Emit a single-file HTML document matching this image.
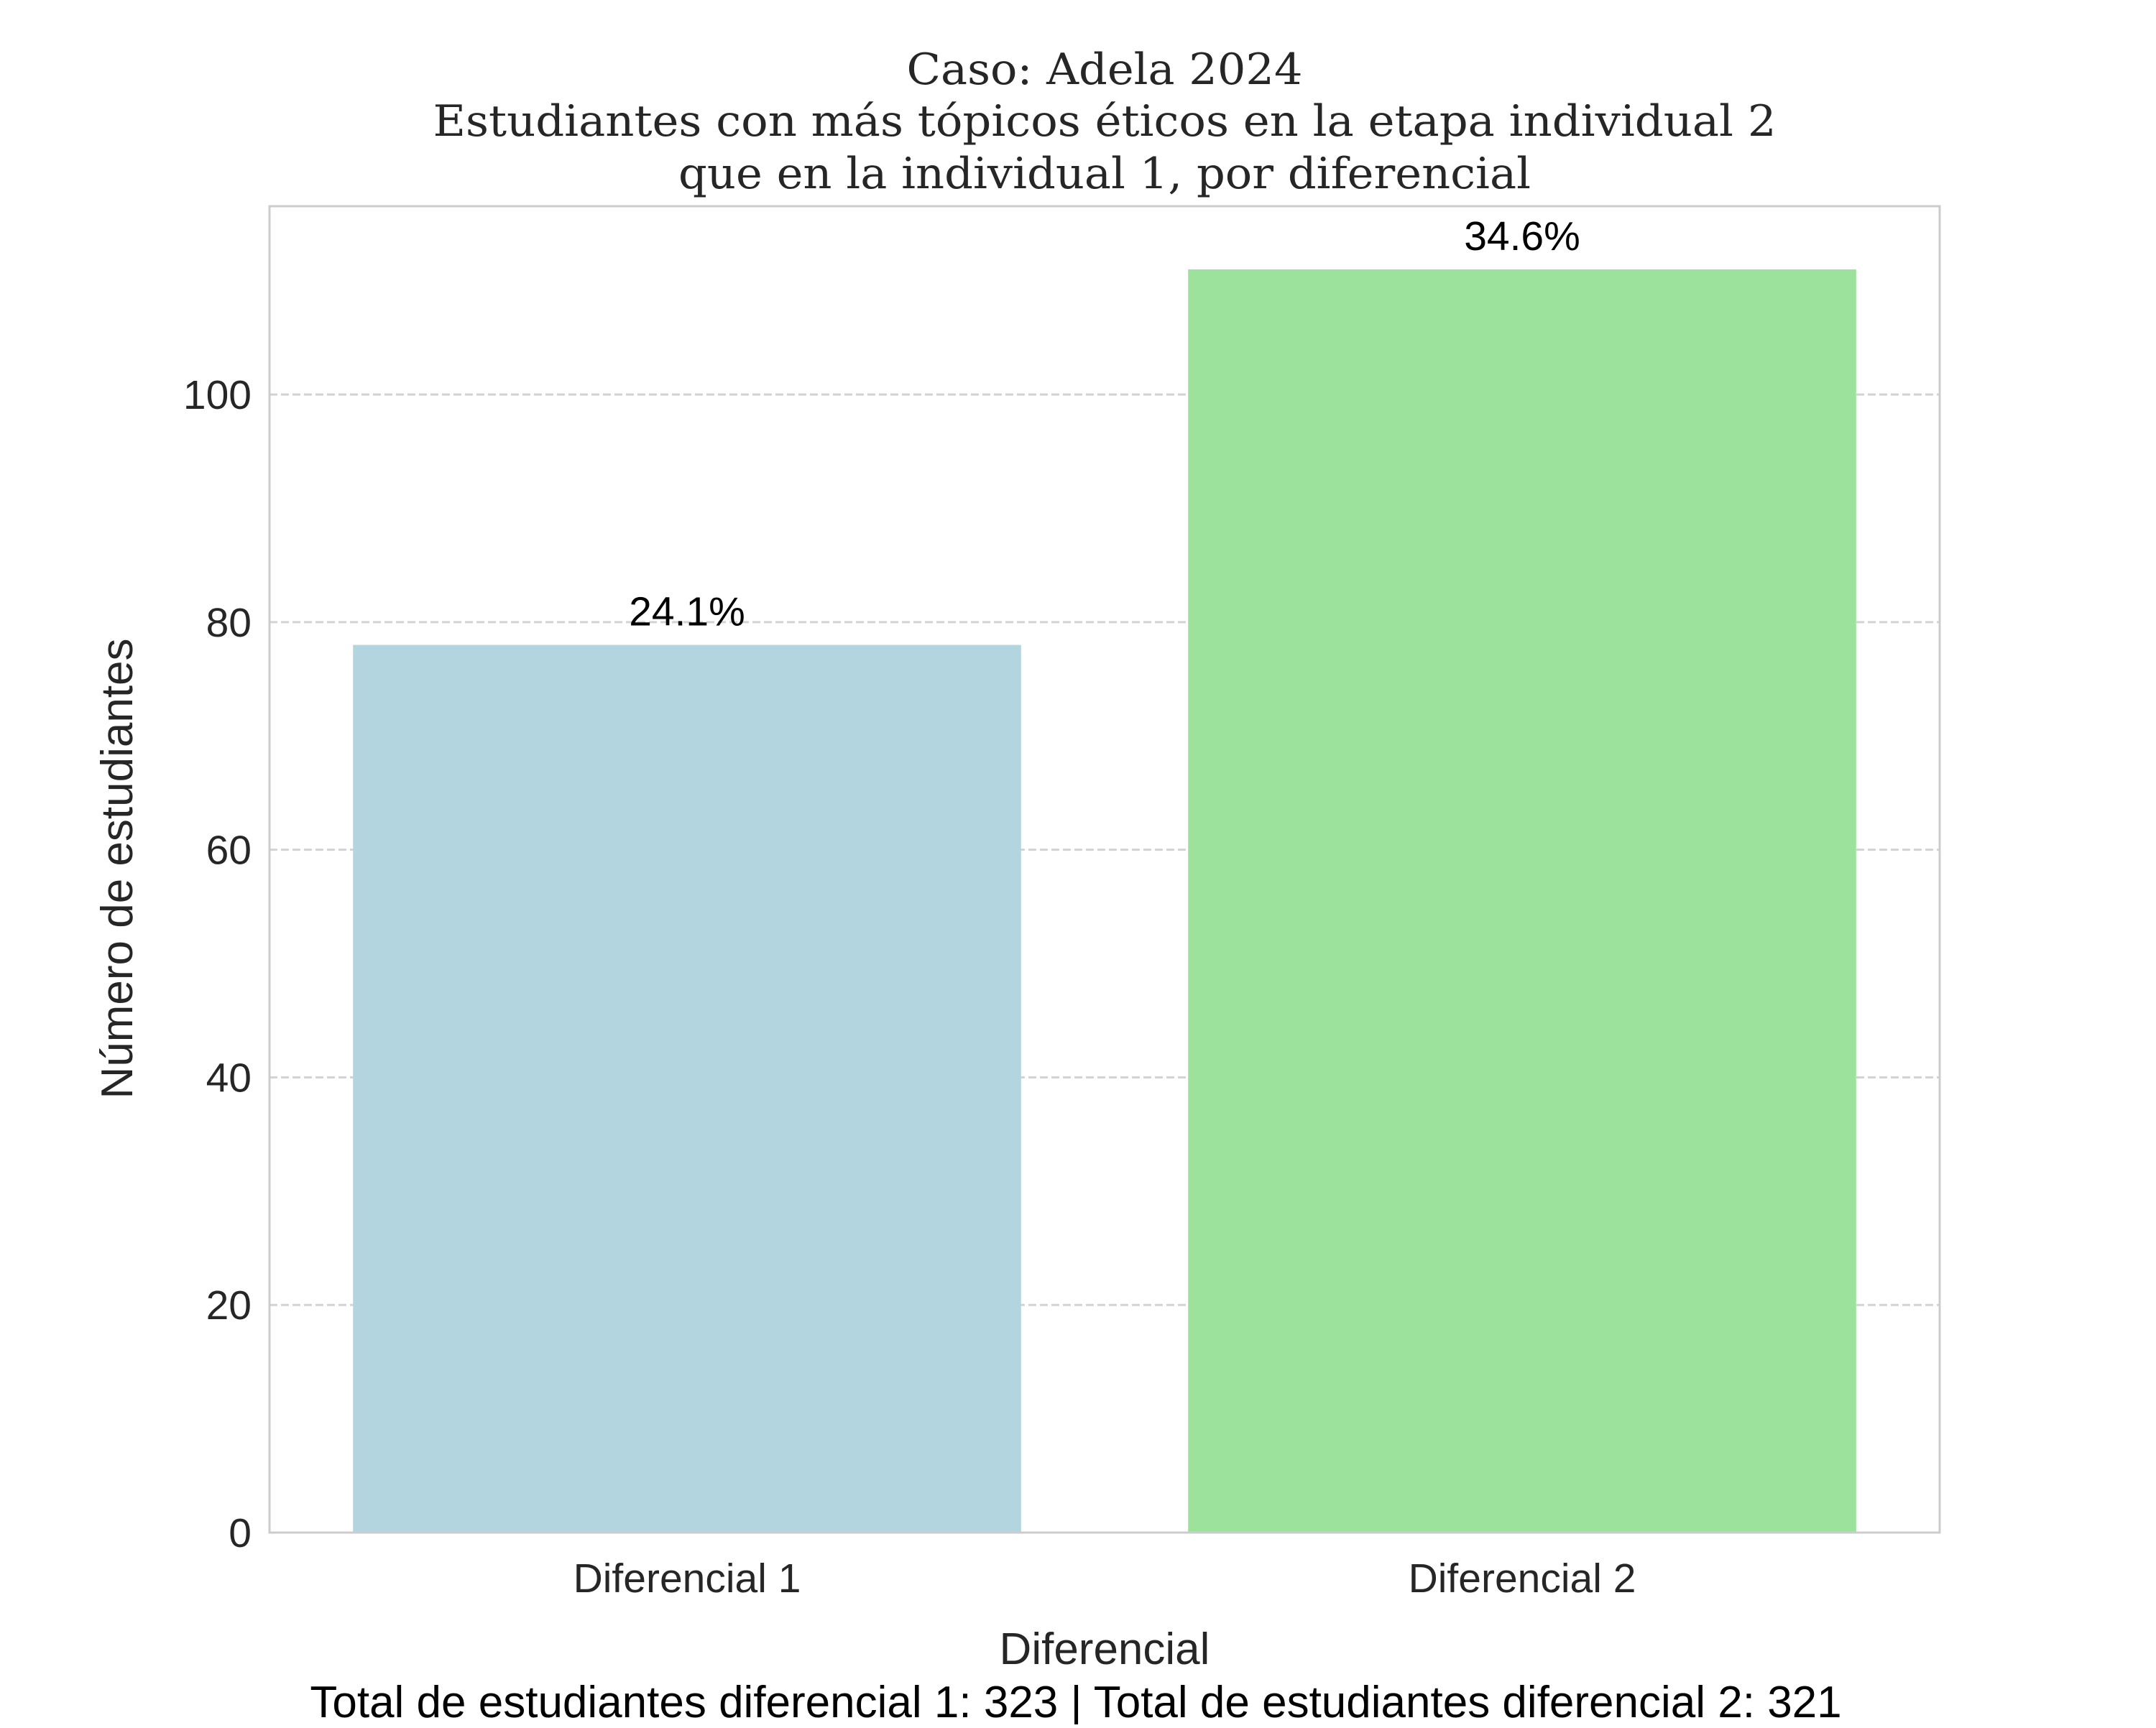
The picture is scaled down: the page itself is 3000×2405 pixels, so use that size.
<!DOCTYPE html>
<html><head><meta charset="utf-8"><style>
body{margin:0;background:#fff}
svg text{font-family:"Liberation Sans",sans-serif}
</style></head><body>
<svg id="chart" width="3000" height="2400" xmlns="http://www.w3.org/2000/svg">
<rect width="3000" height="2400" fill="#fff"/>
<g font-size="60" fill="#262626" text-anchor="middle">
<text x="1537" y="117" textLength="551" lengthAdjust="spacingAndGlyphs" style="font-family:'DejaVu Serif',serif">Caso: Adela 2024</text>
<text x="1537" y="189" textLength="1869" lengthAdjust="spacingAndGlyphs" style="font-family:'DejaVu Serif',serif">Estudiantes con más tópicos éticos en la etapa individual 2</text>
<text x="1537" y="262" textLength="1186" lengthAdjust="spacingAndGlyphs" style="font-family:'DejaVu Serif',serif">que en la individual 1, por diferencial</text>
</g>
<g id="grid"></g>
<g id="bars"></g>
<rect x="375" y="287" width="2324" height="1846" fill="none" stroke="#cccccc" stroke-width="3"/>
<g id="ticks"></g>
<text x="0" y="0" transform="translate(184,1209) rotate(-90)" font-size="62" fill="#262626" text-anchor="middle">Número de estudiantes</text>
<text x="1537" y="2316" font-size="62" fill="#262626" text-anchor="middle">Diferencial</text>
<text x="1497" y="2390" font-size="62" fill="#000" text-anchor="middle">Total de estudiantes diferencial 1: 323 | Total de estudiantes diferencial 2: 321</text>
</svg>
<script>
const categories=["Diferencial 1","Diferencial 2"];
const values=[78,111];
const labels=["24.1%","34.6%"];
const colors=["#b3d5df","#9de29c"];
const yTicks=[0,20,40,60,80,100];
const L=375,R=2699,T=287,B=2133,yMax=116.55;
const ns="http://www.w3.org/2000/svg";
const y=v=>B-(B-T)*v/yMax;
const step=(R-L)/categories.length;
const x=i=>L+step*(i+0.5);
const bw=step*0.8;
function mk(tag,attrs,parent,txt){const e=document.createElementNS(ns,tag);for(const k in attrs)e.setAttribute(k,attrs[k]);if(txt!==undefined)e.textContent=txt;parent.appendChild(e);return e;}
const grid=document.getElementById('grid'),bars=document.getElementById('bars'),ticks=document.getElementById('ticks');
yTicks.forEach(v=>{
 if(v>0){const g=mk('line',{x1:L,x2:R,y1:y(v),y2:y(v),stroke:'#d3d3d3','stroke-width':3,'stroke-dasharray':'11,5'},grid);
 
 }
 const t=mk('text',{x:L-25,y:y(v)+20,'font-size':57,fill:'#262626','text-anchor':'end'},ticks,String(v));
 
 
});
categories.forEach((c,i)=>{
 const r=mk('rect',{x:x(i)-bw/2,y:y(values[i]),width:bw,height:B-y(values[i]),fill:colors[i]},bars);
 
 
 const a=mk('text',{x:x(i),y:y(values[i])-27,'font-size':57,fill:'#000','text-anchor':'middle'},bars,labels[i]);
 
 
 const t=mk('text',{x:x(i),y:B+83,'font-size':57,fill:'#262626','text-anchor':'middle'},ticks,c);
 
 
});
</script>
</body></html>
